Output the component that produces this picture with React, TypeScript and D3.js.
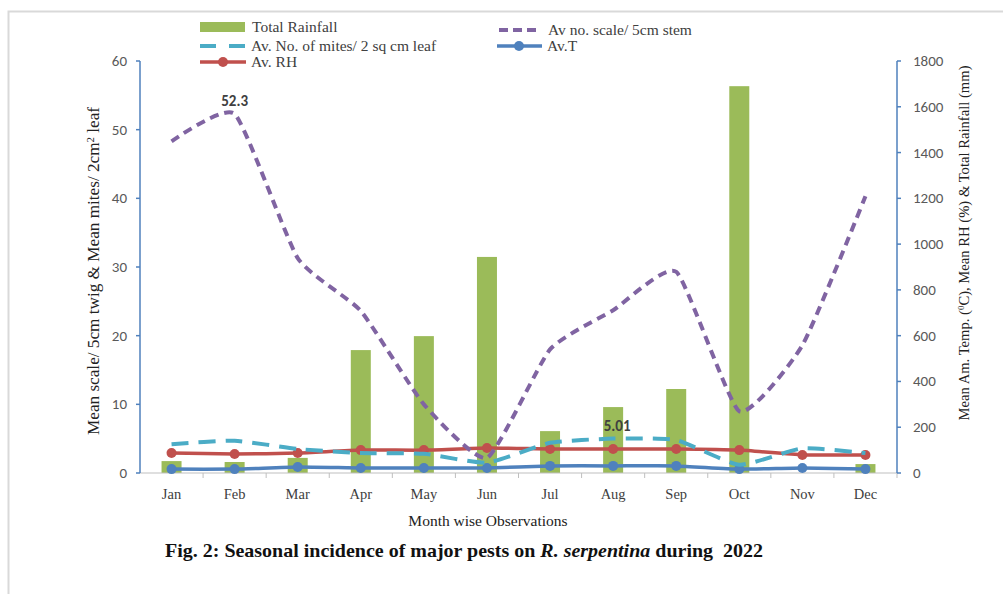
import React from "react";
import * as d3 from "d3";

const months = ["Jan", "Feb", "Mar", "Apr", "May", "Jun", "Jul", "Aug", "Sep", "Oct", "Nov", "Dec"];
const rainfall = [52, 48, 66, 537, 598, 944, 183, 288, 367, 1690, 0, 39];
const scaleInsects = [48.3, 52.3, 31.3, 23.6, 10.0, 2.2, 18.0, 23.7, 29.3, 9.0, 18.6, 40.3];
const mites = [4.2, 4.7, 3.5, 2.9, 2.8, 1.5, 4.4, 5.01, 4.8, 1.2, 3.6, 2.9];
const avgRH = [87, 83, 87, 100, 100, 109, 105, 105, 105, 100, 79, 79];
const avgT = [17, 17, 26, 22, 22, 22, 31, 31, 31, 17, 22, 17];
const leftTicks = [0, 10, 20, 30, 40, 50, 60];
const rightTicks = [0, 200, 400, 600, 800, 1000, 1200, 1400, 1600, 1800];

const C = {
  bar: "#9BBB59",
  scale: "#8064A2",
  mites: "#4BACC6",
  t: "#4F81BD",
  rh: "#C0504D",
  axis: "#4F81BD",
};

export default function App() {
  const x0 = 140, x1 = 897, yTop = 61, yBot = 473;
  const x = d3.scaleBand<string>().domain(months).range([x0, x1]);
  const yL = d3.scaleLinear().domain([0, 60]).range([yBot, yTop]);
  const yR = d3.scaleLinear().domain([0, 1800]).range([yBot, yTop]);
  const cx = (m: string) => (x(m) as number) + x.bandwidth() / 2;
  const curve = d3.curveCardinal.tension(0.5);
  const lineL = d3.line<number>().x((_, i) => cx(months[i])).y((d) => yL(d)).curve(curve);
  const lineR = d3.line<number>().x((_, i) => cx(months[i])).y((d) => yR(d)).curve(curve);
  const barW = 20;
  const serif = "'Liberation Serif', 'Times New Roman', serif";
  const sans = "Carlito, 'Open Sans', 'Noto Sans', sans-serif";

  return (
    <svg width={1003} height={594} style={{ position: "absolute", left: 0, top: 0, background: "#fff" }}>
      <rect x={8.5} y={11.5} width={1100} height={700} fill="none" stroke="#d9d9d9" strokeWidth={2} />

      {/* bars */}
      {rainfall.map((v, i) => (
        <rect key={i} x={cx(months[i]) - barW / 2} y={yR(v)} width={barW} height={yBot - yR(v)} fill={C.bar} />
      ))}

      {/* x axis */}
      <line x1={x0} x2={x1} y1={yBot} y2={yBot} stroke="#bfbfbf" strokeWidth={1} />
      {months.map((m) => (
        <line key={m} x1={(x(m) as number) + x.bandwidth()} x2={(x(m) as number) + x.bandwidth()} y1={yBot} y2={yBot + 5} stroke="#bfbfbf" />
      ))}
      {months.map((m) => (
        <text key={m} x={cx(m)} y={499} textAnchor="middle" fontFamily={serif} fontSize={14.5} fill="#404040">{m}</text>
      ))}

      {/* left axis */}
      <line x1={x0} x2={x0} y1={yTop} y2={yBot} stroke={C.axis} strokeWidth={1.5} />
      {leftTicks.map((t) => (
        <g key={t}>
          <line x1={x0 - 4} x2={x0} y1={yL(t)} y2={yL(t)} stroke={C.axis} strokeWidth={1.5} />
          <text x={127} y={yL(t) + 5} textAnchor="end" fontFamily={sans} fontSize={15} fill="#595959">{t}</text>
        </g>
      ))}

      {/* right axis */}
      <line x1={x1} x2={x1} y1={yTop} y2={yBot} stroke={C.axis} strokeWidth={1.5} />
      {rightTicks.map((t) => (
        <g key={t}>
          <line x1={x1} x2={x1 + 4} y1={yR(t)} y2={yR(t)} stroke={C.axis} strokeWidth={1.5} />
          <text x={913} y={yR(t) + 5} textAnchor="start" fontFamily={sans} fontSize={15} fill="#595959">{t}</text>
        </g>
      ))}

      {/* lines */}
      <path d={lineR(avgT) as string} fill="none" stroke={C.t} strokeWidth={3.5} />
      {avgT.map((v, i) => <circle key={i} cx={cx(months[i])} cy={yR(v)} r={5} fill={C.t} />)}
      <path d={lineR(avgRH) as string} fill="none" stroke={C.rh} strokeWidth={3.5} />
      {avgRH.map((v, i) => <circle key={i} cx={cx(months[i])} cy={yR(v)} r={5} fill={C.rh} />)}
      <path d={lineL(mites) as string} fill="none" stroke={C.mites} strokeWidth={4} strokeDasharray="17 10" />
      <path d={lineL(scaleInsects) as string} fill="none" stroke={C.scale} strokeWidth={4} strokeDasharray="9 6" />

      {/* data labels */}
      <text x={cx("Feb")} y={yL(52.3) - 8} textAnchor="middle" fontFamily={sans} fontWeight="bold" fontSize={15} fill="#404040">52.3</text>
      <text x={cx("Aug") + 4} y={yL(5.01) - 8} textAnchor="middle" fontFamily={sans} fontWeight="bold" fontSize={15} fill="#404040">5.01</text>

      {/* legend */}
      <g fontFamily={serif} fontSize={15.5} fill="#404040">
        <rect x={200} y={22} width={45} height={10} fill={C.bar} />
        <text x={252} y={32}>Total Rainfall</text>
        <line x1={499} x2={541} y1={30} y2={30} stroke={C.scale} strokeWidth={4} strokeDasharray="9 5" />
        <text x={548} y={35}>Av no. scale/ 5cm stem</text>
        <line x1={200} x2={246} y1={46} y2={46} stroke={C.mites} strokeWidth={4} strokeDasharray="16 13" />
        <text x={251} y={51}>Av. No. of mites/ 2 sq cm leaf</text>
        <line x1={497} x2={542} y1={46} y2={46} stroke={C.t} strokeWidth={3.5} />
        <circle cx={519} cy={46} r={5} fill={C.t} />
        <text x={547} y={51}>Av.T</text>
        <line x1={200} x2={246} y1={62} y2={62} stroke={C.rh} strokeWidth={3.5} />
        <circle cx={223} cy={62} r={5} fill={C.rh} />
        <text x={251} y={67}>Av. RH</text>
      </g>

      {/* axis titles */}
      <text transform="translate(99,271) rotate(-90)" textAnchor="middle" fontFamily={serif} fontSize={16} fill="#222" textLength={328} lengthAdjust="spacingAndGlyphs">
        Mean scale/ 5cm twig  &amp; Mean mites/ 2cm<tspan baselineShift="super" fontSize={10}>2</tspan> leaf
      </text>
      <text transform="translate(969,243) rotate(-90)" textAnchor="middle" fontFamily={serif} fontSize={15} fill="#222" textLength={355} lengthAdjust="spacingAndGlyphs">
        Mean Am. Temp. (<tspan baselineShift="super" fontSize={9}>0</tspan>C), Mean RH (%) &amp; Total Rainfall (mm)
      </text>
      <text x={488} y={526} textAnchor="middle" fontFamily={serif} fontSize={15.5} fill="#222">Month wise Observations</text>

      {/* caption */}
      <text x={464} y={557} textAnchor="middle" fontFamily={serif} fontSize={19} fontWeight="bold" fill="#111" textLength={598} lengthAdjust="spacingAndGlyphs" style={{ whiteSpace: "pre" }}>
        Fig. 2: Seasonal incidence of major pests on <tspan fontStyle="italic">R. serpentina</tspan> during  2022
      </text>
    </svg>
  );
}
